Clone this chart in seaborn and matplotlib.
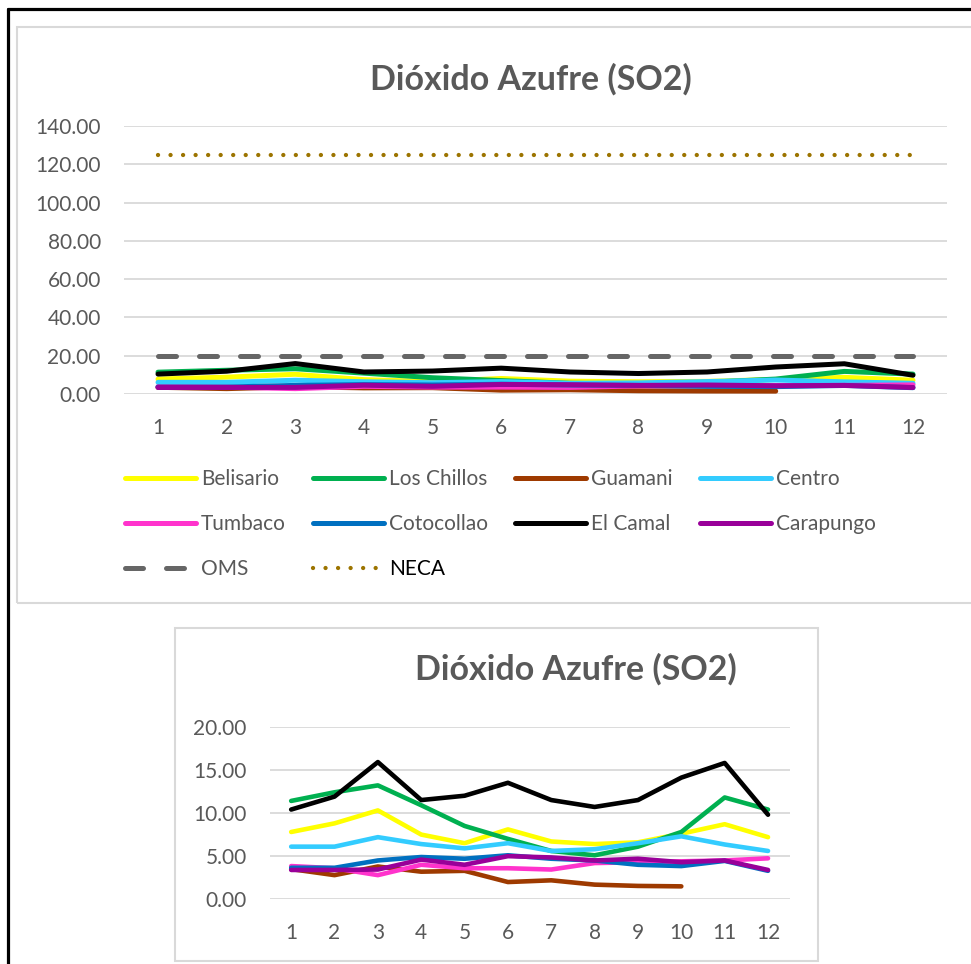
import numpy as np
import pandas as pd
import seaborn as sns
import matplotlib
matplotlib.use('Agg')
import matplotlib.pyplot as plt
from matplotlib.lines import Line2D
from matplotlib.patches import Rectangle

# monthly SO2 means per station
months = list(range(1, 13))
belisario = [7.8, 8.8, 10.3, 7.5, 6.5, 8.1, 6.7, 6.4, 6.6, 7.6, 8.7, 7.2]
los_chillos = [11.4, 12.4, 13.2, 10.9, 8.5, 7.0, 5.6, 5.1, 6.1, 7.8, 11.8, 10.4]
guamani = [3.5, 2.8, 3.8, 3.2, 3.3, 2.0, 2.2, 1.7, 1.55, 1.5]
centro = [6.1, 6.1, 7.2, 6.4, 5.9, 6.5, 5.6, 5.8, 6.5, 7.3, 6.35, 5.6]
tumbaco = [3.85, 3.6, 2.8, 4.0, 3.6, 3.6, 3.45, 4.2, 4.3, 4.4, 4.5, 4.75]
cotocollao = [3.65, 3.65, 4.5, 4.9, 4.7, 5.1, 4.7, 4.5, 4.0, 3.85, 4.45, 3.3]
el_camal = [10.4, 11.9, 15.9, 11.5, 12.0, 13.5, 11.5, 10.7, 11.5, 14.1, 15.8, 9.8]
carapungo = [3.4, 3.4, 3.45, 4.6, 4.0, 5.0, 4.85, 4.5, 4.7, 4.3, 4.5, 3.4]
oms = [20] * 12
neca = [125] * 12

stations = [("Belisario", belisario, "#FFFF00"),
            ("Los Chillos", los_chillos, "#00B050"),
            ("Guamani", guamani, "#9E3A00"),
            ("Centro", centro, "#33CCFF"),
            ("Tumbaco", tumbaco, "#FF33CC"),
            ("Cotocollao", cotocollao, "#0070C0"),
            ("El Camal", el_camal, "#000000"),
            ("Carapungo", carapungo, "#990099")]

title = "Dióxido Azufre (SO2)"
gray = "#595959"

sns.set_theme(style="white")
plt.rcParams['font.family'] = ['Lato', 'DejaVu Sans']

W, H = 971, 964
fig = plt.figure(figsize=(W / 100, H / 100), dpi=100)


def box(x0, y0, x1, y1):
    # pixel coords (top-left origin) -> figure fraction
    return [x0 / W, 1 - y1 / H, (x1 - x0) / W, (y1 - y0) / H]


def draw(ax, lw, extra):
    for name, vals, col in stations:
        sns.lineplot(x=months[:len(vals)], y=vals, ax=ax, color=col, lw=lw,
                     label=name, estimator=None, solid_capstyle='round')
    if extra:
        sns.lineplot(x=months, y=oms, ax=ax, color="#666666", lw=lw, label="OMS",
                     estimator=None, linestyle=(0, (3.6, 4.6)), dash_capstyle='round')
        sns.lineplot(x=months, y=neca, ax=ax, color="#9C7400", lw=3.1, label="NECA",
                     estimator=None, linestyle=(0, (0.01, 2.9)), dash_capstyle='round')
    ax.set_xlim(0.5, 12.5)
    ax.set_xticks(months)
    ax.yaxis.grid(True, color="#D9D9D9", lw=1.3)
    ax.xaxis.grid(False)
    ax.set_axisbelow(True)
    for s in ax.spines.values():
        s.set_visible(False)
    ax.tick_params(length=0, labelsize=15, labelcolor=gray)
    ax.tick_params(axis='y', pad=16.5)
    ax.tick_params(axis='x', pad=17)
    ax.yaxis.set_major_formatter(matplotlib.ticker.FormatStrFormatter('%.2f'))
    ax.set_xlabel("")
    ax.set_ylabel("")


# frames
fig.add_artist(Line2D([8 / W, 8 / W], [0, 1 - 9 / H], color="black", lw=2.3,
                      transform=fig.transFigure))
fig.add_artist(Line2D([8 / W, 1], [1 - 9 / H, 1 - 9 / H], color="black", lw=2.3,
                      transform=fig.transFigure))
for x0, y0, x1, y1 in [(17, 27, 990, 603), (175, 628, 818, 961)]:
    b = box(x0, y0, x1, y1)
    fig.add_artist(Rectangle((b[0], b[1]), b[2], b[3], fill=False, ec="#D9D9D9",
                             lw=1.5, transform=fig.transFigure))

# top chart
ax1 = fig.add_axes(box(123.7, 126, 947.3, 394))
draw(ax1, 3.6, True)
ax1.set_ylim(0, 140)
ax1.set_yticks(np.arange(0, 141, 20))
fig.text(531 / W, 1 - 79 / H, title, ha='center', va='center', fontsize=24.5,
         fontweight='bold', color=gray)

h, l = ax1.get_legend_handles_labels()
order = [0, 4, 8, 1, 5, 9, 2, 6, 3, 7]
leg = ax1.legend([h[i] for i in order], [l[i] for i in order], ncol=4,
                 loc='upper left', bbox_to_anchor=(125 / W, 1 - 469 / H),
                 bbox_transform=fig.transFigure, frameon=False, fontsize=15,
                 handlelength=3.4, handletextpad=0.25, labelspacing=1.2,
                 columnspacing=1.3, borderpad=0, borderaxespad=0)
for t in leg.get_texts():
    t.set_color("black" if t.get_text() == "NECA" else gray)

# bottom chart (zoomed)
ax2 = fig.add_axes(box(269.5, 726.7, 789.7, 899.3))
draw(ax2, 3.3, False)
ax2.set_ylim(0, 20)
ax2.set_yticks(np.arange(0, 21, 5))
ax2.get_legend().remove()
fig.text(575.5 / W, 1 - 669 / H, title, ha='center', va='center', fontsize=24.5,
         fontweight='bold', color=gray)

plt.savefig('out.png', dpi=100)
